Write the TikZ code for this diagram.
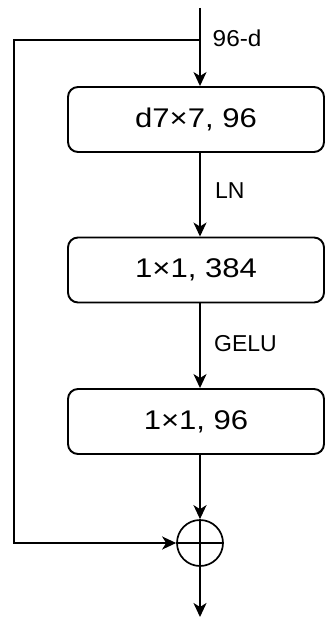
\documentclass[tikz,border=0pt]{standalone}
\usepackage{fontspec}
\setmainfont{Liberation Sans}
\usetikzlibrary{arrows.meta}
\tikzset{
  blk/.style={draw, line width=1.9pt, rounded corners=10pt, minimum width=256pt, minimum height=65pt, inner sep=0pt, font=\fontsize{27}{32}\selectfont},
  lbl/.style={anchor=west, inner sep=0pt, font=\fontsize{23}{27}\selectfont},
  con/.style={line width=1.9pt, -{Stealth[length=14pt, width=13pt, inset=4pt]}},
  addc/.style={draw, circle, line width=1.7pt, minimum size=46pt, inner sep=0pt}
}
\newcommand{\wide}[1]{\scalebox{1.15}[1]{#1}}
\begin{document}
\begin{tikzpicture}[x=1pt, y=-1pt]
\useasboundingbox (0,0) rectangle (326,618);
\node[blk] (b1) at (196,119.5) {\wide{d7×7, 96}};
\node[blk] (b2) at (196,270) {\wide{1×1, 384}};
\node[blk] (b3) at (196,421.5) {\wide{1×1, 96}};
\node[addc] (add) at (200,543) {};
\draw[line width=1.7pt] (add.north) -- (add.south) (add.west) -- (add.east);
\coordinate (top) at (200,8);
\coordinate (br) at (200,40);
\coordinate (c1) at (14,40);
\coordinate (c2) at (14,543);
\coordinate (out) at (200,617);
\draw[con] (top) -- (b1.north -| top);
\draw[con] (b1.south -| top) -- (b2.north -| top);
\draw[con] (b2.south -| top) -- (b3.north -| top);
\draw[con] (b3.south -| top) -- (add.north);
\draw[con] (br) -- (c1) -- (c2) -- (add.west);
\draw[con] (add.south) -- (out);
\node[lbl] (l1) at (212.5,38) {\scalebox{1.06}[1]{96-d}};
\node[lbl] (l2) at (215,191) {LN};
\node[lbl] (l3) at (214,344) {GELU};
\end{tikzpicture}
\end{document}
